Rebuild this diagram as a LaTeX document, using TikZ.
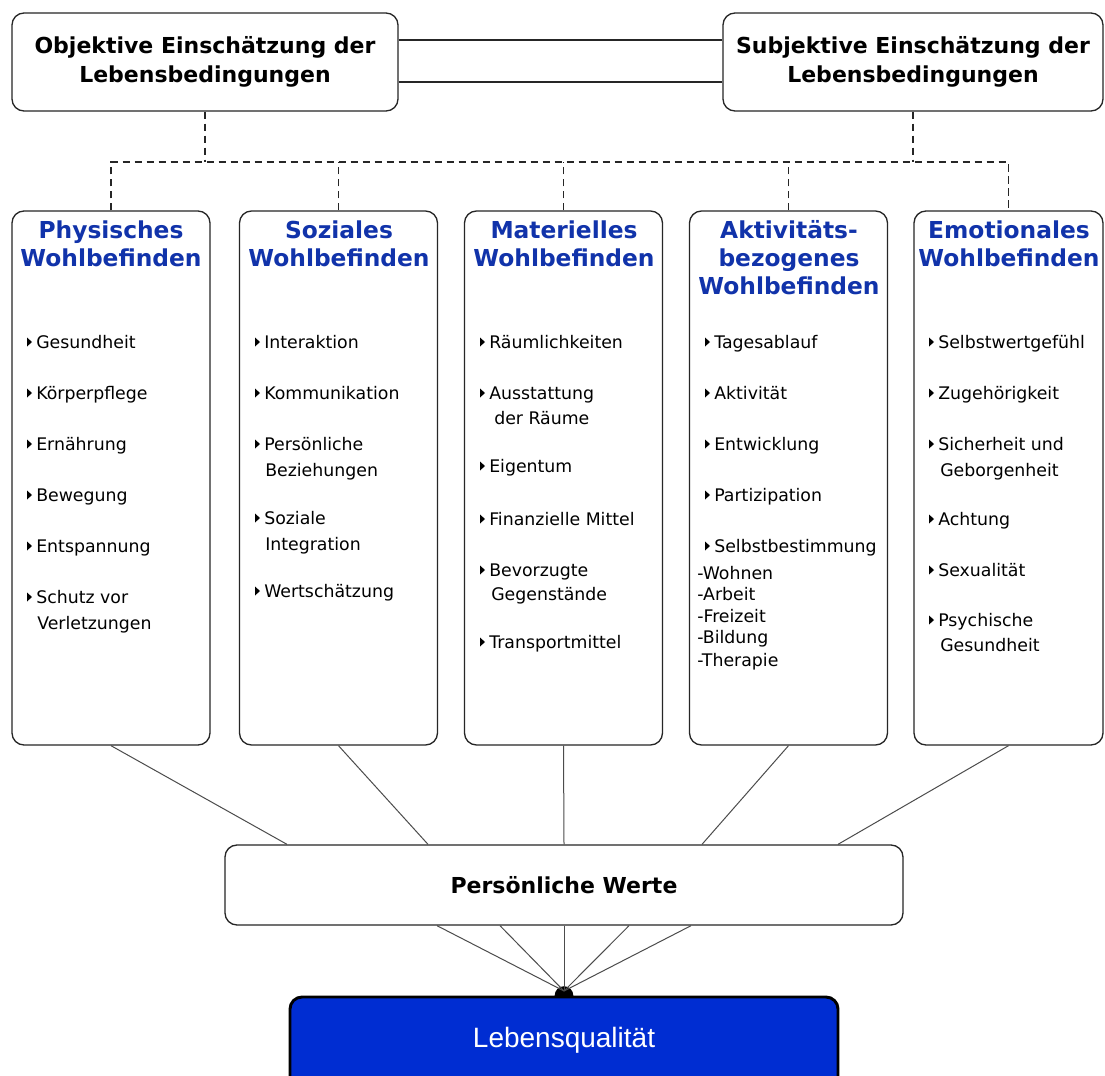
\documentclass[tikz,border=0pt]{standalone}
\usepackage{fontspec}
\setmainfont{DejaVu Sans}
\newfontfamily\lqfont{Liberation Sans}
\definecolor{hdblue}{RGB}{17,51,170}
\definecolor{lqblue}{RGB}{0,45,210}
\pgfdeclarelayer{paper}
\pgfdeclarelayer{bg}
\pgfsetlayers{paper,bg,main}
\tikzset{
 bx/.style={draw=black!85, line width=1pt, rounded corners=9pt, fill=white, inner sep=0pt},
 titletext/.style={font=\bfseries\fontsize{16.5pt}{21.75pt}\selectfont, align=center},
 hd/.style={anchor=base, inner sep=0pt, text=hdblue, font=\bfseries\fontsize{17.5pt}{20pt}\selectfont},
 item/.style={anchor=base west, inner sep=0pt, font=\fontsize{13pt}{15pt}\selectfont},
 conn/.style={draw=black!70, line width=0.75pt},
 dsh/.style={draw=black!85, line width=1pt, dash pattern=on 5.5pt off 3.5pt},
}
\newcommand\itm[4]{%
 \fill (#2-9,#3-4.5) -- (#2-9,#3+4.5) -- (#2-4,#3) -- cycle;
 \node[item] (#1) at (#2,#3+6) {#4};}
\newcommand\cnt[4]{\node[item] (#1) at (#2,#3+6) {#4};}
\newcommand\hdl[4]{\node[hd] (#1) at (#2,#3+8) {#4};}
\begin{document}
\begin{tikzpicture}[x=0.75pt,y=-0.75pt]
\useasboundingbox (0,0) rectangle (1105,1075);
\begin{pgfonlayer}{paper}
\fill[white] (0,0) rectangle (1105,1075);
\end{pgfonlayer}
\clip (0,0) rectangle (1105,1075);

% top boxes
\node[bx, titletext, minimum width=289.5pt, minimum height=73.5pt] (obj) at (205,62)
 {Objektive Einschätzung der\\Lebensbedingungen};
\node[bx, titletext, minimum width=285pt, minimum height=73.5pt] (subj) at (913,62)
 {Subjektive Einschätzung der\\Lebensbedingungen};

% column boxes
\node[bx, minimum width=148.5pt, minimum height=400.5pt] (c1) at (111,478) {};
\node[bx, minimum width=148.5pt, minimum height=400.5pt] (c2) at (338.5,478) {};
\node[bx, minimum width=148.5pt, minimum height=400.5pt] (c3) at (563.5,478) {};
\node[bx, minimum width=148.5pt, minimum height=400.5pt] (c4) at (788.5,478) {};
\node[bx, minimum width=141.75pt, minimum height=400.5pt] (c5) at (1008.5,478) {};

% bottom boxes
\node[bx, font=\bfseries\fontsize{16.5pt}{19pt}\selectfont, minimum width=508.5pt, minimum height=60pt] (pw) at (564,885) {Persönliche Werte};
\node[draw=black, line width=2.2pt, rounded corners=9pt, fill=lqblue, text=white, inner sep=0pt,
 font=\lqfont\fontsize{21pt}{24pt}\selectfont, minimum width=411pt, minimum height=72pt, text depth=12pt] (lq) at (564,1045) {Lebensqualität};

% connectors between top boxes
\coordinate (ya) at (0,40);
\coordinate (yb) at (0,82);
\draw[conn, draw=black!85, line width=1pt] (obj.east |- ya) -- (subj.west |- ya);
\draw[conn, draw=black!85, line width=1pt] (obj.east |- yb) -- (subj.west |- yb);

% dashed tree
\coordinate (bus) at (0,162);
\draw[dsh] (obj.south) -- (obj.south |- bus);
\draw[dsh] (subj.south) -- (subj.south |- bus);
\draw[dsh] (c1.north) -- (c1.north |- bus) -- (c5.north |- bus) -- (c5.north);
\draw[dsh] (c2.north) -- (c2.north |- bus);
\draw[dsh] (c3.north) -- (c3.north |- bus);
\draw[dsh] (c4.north) -- (c4.north |- bus);

% columns to Persönliche Werte
\draw[conn] (c1.south) -- ([xshift=-207.75pt]pw.north);
\draw[conn] (c2.south) -- ([xshift=-102pt]pw.north);
\draw[conn] (c3.south) -- (pw.north);
\draw[conn] (c4.south) -- ([xshift=103.5pt]pw.north);
\draw[conn] (c5.south) -- ([xshift=205.5pt]pw.north);

% Persönliche Werte to Lebensqualität
\coordinate (hub) at (564,991);
\draw[conn] ([xshift=-95.25pt]pw.south) -- (hub);
\draw[conn] ([xshift=-48pt]pw.south) -- (hub);
\draw[conn] (pw.south) -- (hub);
\draw[conn] ([xshift=48.75pt]pw.south) -- (hub);
\draw[conn] ([xshift=95.25pt]pw.south) -- (hub);
\begin{pgfonlayer}{bg}
\fill[black] (lq.north) circle[radius=7pt];
\end{pgfonlayer}

% headers
\hdl{h1a}{111}{230}{Physisches}
\hdl{h1b}{111}{258}{Wohlbefinden}
\hdl{h2a}{339}{230}{Soziales}
\hdl{h2b}{339}{258}{Wohlbefinden}
\hdl{h3a}{564}{230}{Materielles}
\hdl{h3b}{564}{258}{Wohlbefinden}
\hdl{h4a}{789}{230}{Aktivitäts-}
\hdl{h4b}{789}{258}{bezogenes}
\hdl{h4c}{789}{286}{Wohlbefinden}
\hdl{h5a}{1009}{230}{Emotionales}
\hdl{h5b}{1009}{258}{Wohlbefinden}

% column 1
\itm{a1}{36}{342}{Gesundheit}
\itm{a2}{36}{393}{Körperpflege}
\itm{a3}{36}{444}{Ernährung}
\itm{a4}{36}{495}{Bewegung}
\itm{a5}{36}{546}{Entspannung}
\itm{a6}{36}{597}{Schutz vor}
\cnt{a6b}{37}{623}{Verletzungen}

% column 2
\itm{b1}{264}{342}{Interaktion}
\itm{b2}{264}{393}{Kommunikation}
\itm{b3}{264}{444}{Persönliche}
\cnt{b3b}{265}{470}{Beziehungen}
\itm{b4}{264}{518}{Soziale}
\cnt{b4b}{265}{544}{Integration}
\itm{b5}{264}{591}{Wertschätzung}

% column 3
\itm{m1}{489}{342}{Räumlichkeiten}
\itm{m2}{489}{393}{Ausstattung}
\cnt{m2b}{494}{418}{der Räume}
\itm{m3}{489}{466}{Eigentum}
\itm{m4}{489}{519}{Finanzielle Mittel}
\itm{m5}{489}{570}{Bevorzugte}
\cnt{m5b}{491}{594}{Gegenstände}
\itm{m6}{489}{642}{Transportmittel}

% column 4
\itm{k1}{714}{342}{Tagesablauf}
\itm{k2}{714}{393}{Aktivität}
\itm{k3}{714}{444}{Entwicklung}
\itm{k4}{714}{495}{Partizipation}
\itm{k5}{714}{546}{Selbstbestimmung}
\cnt{k5a}{697}{573}{-Wohnen}
\cnt{k5b}{697}{594}{-Arbeit}
\cnt{k5c}{697}{616}{-Freizeit}
\cnt{k5d}{697}{637}{-Bildung}
\cnt{k5e}{697}{660}{-Therapie}

% column 5
\itm{e1}{938}{342}{Selbstwertgefühl}
\itm{e2}{938}{393}{Zugehörigkeit}
\itm{e3}{938}{444}{Sicherheit und}
\cnt{e3b}{940}{470}{Geborgenheit}
\itm{e4}{938}{519}{Achtung}
\itm{e5}{938}{570}{Sexualität}
\itm{e6}{938}{620}{Psychische}
\cnt{e6b}{940}{645}{Gesundheit}
\end{tikzpicture}
\end{document}
